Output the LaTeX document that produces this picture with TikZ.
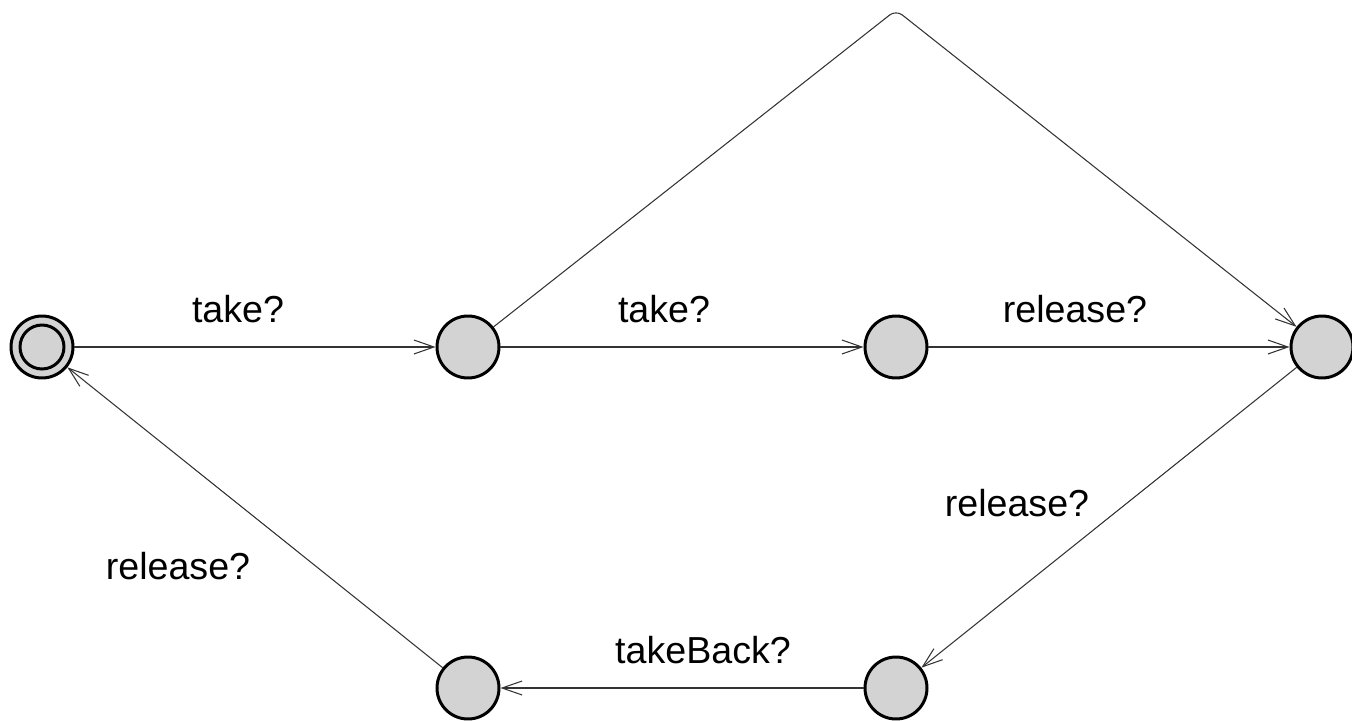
\documentclass[tikz,border=0pt]{standalone}
\usepackage{fontspec}
\setmainfont{Liberation Sans}
\usetikzlibrary{arrows.meta}
\definecolor{locfill}{HTML}{D3D3D3}
\definecolor{edgecol}{HTML}{333333}
\begin{document}
\begin{tikzpicture}[x=0.02cm,y=-0.02cm,
  loc/.style={circle,draw=black,fill=locfill,line width=1.7pt,minimum size=1.24cm,inner sep=0pt},
  initloc/.style={loc,double=locfill,double distance=0.15cm,minimum size=0.88cm},
  edge/.style={draw=edgecol,line width=0.6pt,-{Straight Barb[length=0.4cm,width=0.28cm,line width=0.6pt]}},
  lbl/.style={font=\fontsize{21.4}{24}\selectfont,inner sep=0pt}]
\useasboundingbox (0,0) rectangle (1352,720);
\node[loc] (n0) at (42,347) {};
\node[circle,draw=black,fill=locfill,line width=1.7pt,minimum size=0.88cm,inner sep=0pt] (n0i) at (42,347) {};
\node[loc] (n1) at (468,347) {};
\node[loc] (n2) at (896,347) {};
\node[loc] (n3) at (1322,347) {};
\node[loc] (n4) at (896,688) {};
\node[loc] (n5) at (468,688) {};
\coordinate (top) at (896,10);
\draw[edge] (n0) -- (n1);
\draw[edge] (n1) -- (n2);
\draw[edge] (n2) -- (n3);
\draw[edge,rounded corners=0.16cm] (n1) -- (top) -- (n3);
\draw[edge] (n3) -- (n4);
\draw[edge] (n4) -- (n5);
\draw[edge] (n5) -- (n0);
\node[lbl] (l1) at (238,309) {take?};
\node[lbl] (l2) at (664,309) {take?};
\node[lbl] (l3) at (1075,309) {release?};
\node[lbl] (l4) at (1017,503) {release?};
\node[lbl] (l5) at (703,650) {takeBack?};
\node[lbl] (l6) at (178,566) {release?};
\end{tikzpicture}
\end{document}
